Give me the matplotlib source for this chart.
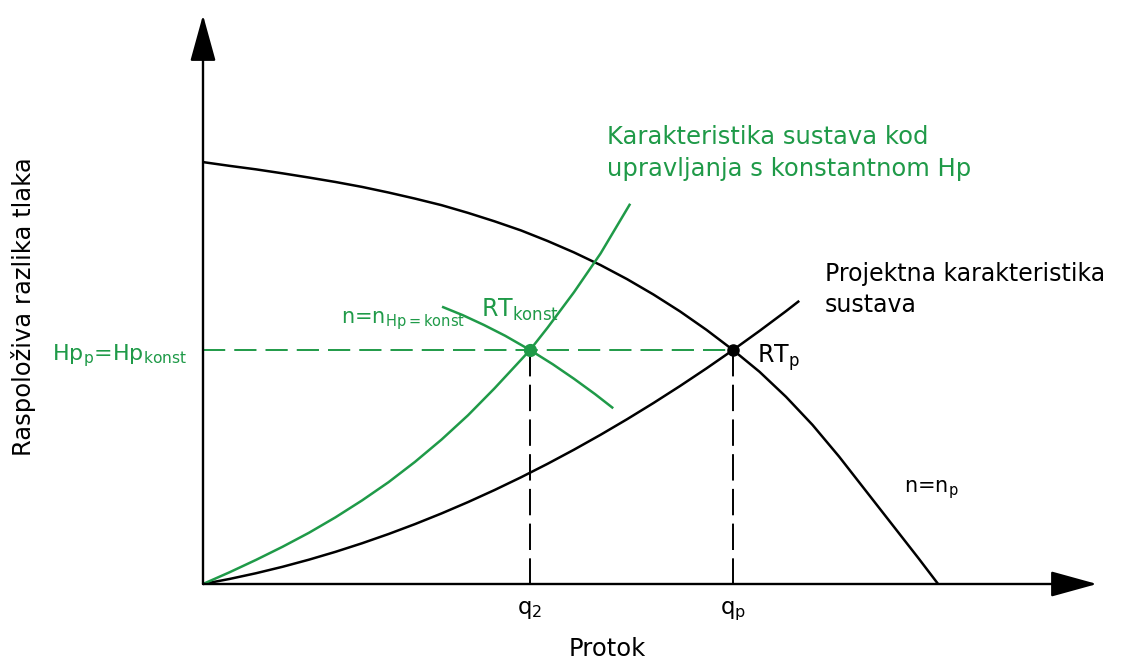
import matplotlib
matplotlib.use("Agg")
import matplotlib.pyplot as plt

plt.rcParams['font.family'] = ['DejaVu Sans']
plt.rcParams['mathtext.default'] = 'regular'
plt.rcParams['lines.scale_dashes'] = False

# ---- data (normalised: q / q_p, H / Hp_p) ----
pump_q = [0.0, 0.05, 0.1, 0.15, 0.2, 0.25, 0.3, 0.35, 0.4, 0.45, 0.5, 0.55, 0.6, 0.65,
          0.7, 0.75, 0.8, 0.85, 0.9, 0.95, 1.0, 1.05, 1.1, 1.15, 1.2, 1.25, 1.3, 1.35, 1.387]
pump_H = [1.803, 1.787, 1.772, 1.755, 1.737, 1.718, 1.697, 1.673, 1.647, 1.619, 1.586,
          1.550, 1.511, 1.466, 1.417, 1.363, 1.303, 1.237, 1.165, 1.086, 1.0, 0.907,
          0.800, 0.680, 0.545, 0.40, 0.255, 0.11, 0.0]

sys_q = [0.0, 0.05, 0.1, 0.15, 0.2, 0.25, 0.3, 0.35, 0.4, 0.45, 0.5, 0.55, 0.6, 0.65,
         0.7, 0.75, 0.8, 0.85, 0.9, 0.95, 1.0, 1.05, 1.1, 1.125]
sys_H = [0.0, 0.0215, 0.046, 0.0735, 0.104, 0.1375, 0.174, 0.2135, 0.256, 0.3015, 0.35,
         0.4015, 0.456, 0.5135, 0.574, 0.6375, 0.704, 0.7735, 0.846, 0.9215, 1.0, 1.0815,
         1.166, 1.21]

green_sys_q = [0.0, 0.05, 0.1, 0.15, 0.2, 0.25, 0.3, 0.35, 0.4, 0.45, 0.5, 0.55, 0.6,
               0.617, 0.65, 0.7, 0.75, 0.806]
green_sys_H = [0.0, 0.050, 0.103, 0.159, 0.219, 0.285, 0.357, 0.435, 0.522, 0.617, 0.721,
               0.836, 0.958, 1.0, 1.095, 1.247, 1.412, 1.625]

green_pump_q = [0.451, 0.49, 0.53, 0.57, 0.617, 0.66, 0.70, 0.74, 0.774]
green_pump_H = [1.185, 1.149, 1.107, 1.061, 1.0, 0.939, 0.877, 0.811, 0.751]

q2, qp, Hp = 0.617, 1.0, 1.0
x_tick_vals = [q2, qp]
x_tick_labels = ['q$_2$', 'q$_p$']

GREEN = '#1f9a48'
W, H_ = 1135, 660
fig = plt.figure(figsize=(W / 100, H_ / 100), dpi=100)
ax = fig.add_axes([0, 0, 1, 1])
# origin at pixel (203, 584); q_p -> 530 px, Hp -> 234 px
ax.set_xlim(-203 / 530, (W - 203) / 530)
ax.set_ylim(-(H_ - 584) / 234, 584 / 234)
ax.axis('off')


def fx(px):
    return px / W


def fy(py):
    return 1 - py / H_


# axes with arrows
arrow_kw = dict(arrowstyle='-|>,head_length=2.9,head_width=0.8', mutation_scale=10,
                lw=1.7, color='black', shrinkA=0, shrinkB=0)
ax.annotate('', xy=((1097 - 203) / 530, 0), xytext=(0, 0), arrowprops=arrow_kw)
ax.annotate('', xy=(0, (584 - 15) / 234), xytext=(0, 0), arrowprops=arrow_kw)

# curves
ax.plot(pump_q, pump_H, color='black', lw=1.8, solid_capstyle='butt')
ax.plot(sys_q, sys_H, color='black', lw=1.8, solid_capstyle='butt')
ax.plot(green_sys_q, green_sys_H, color=GREEN, lw=1.8, solid_capstyle='butt')
ax.plot(green_pump_q, green_pump_H, color=GREEN, lw=1.8, solid_capstyle='butt')

# dashed guides
ax.plot([0, qp], [Hp, Hp], color=GREEN, lw=1.4, dashes=(16, 6.5))
for xv in x_tick_vals:
    ax.plot([xv, xv], [Hp, 0], color='black', lw=1.4, dashes=(19, 6))

# operating points
ax.plot([q2], [Hp], 'o', color=GREEN, ms=8.5, zorder=5)
ax.plot([qp], [Hp], 'o', color='black', ms=8, zorder=5)

# x tick labels
for xv, lab in zip(x_tick_vals, x_tick_labels):
    ax.text(xv, (584 - 614) / 234, lab, ha='center', va='baseline', fontsize=16.5)

fs = 17.5
fig.text(fx(607), fy(144), 'Karakteristika sustava kod', color=GREEN, fontsize=fs, va='baseline')
fig.text(fx(607), fy(176), 'upravljanja s konstantnom Hp', color=GREEN, fontsize=fs, va='baseline')
fig.text(fx(825), fy(281), 'Projektna karakteristika', color='black', fontsize=17, va='baseline')
fig.text(fx(825), fy(312), 'sustava', color='black', fontsize=17, va='baseline')
fig.text(fx(757), fy(363), 'RT$_p$', color='black', fontsize=17, va='baseline')
fig.text(fx(481), fy(317), 'RT$_{konst}$', color=GREEN, fontsize=17, va='baseline')
fig.text(fx(341), fy(323), 'n=n$_{Hp=konst}$', color=GREEN, fontsize=15, va='baseline')
fig.text(fx(52), fy(360), 'Hp$_p$=Hp$_{konst}$', color=GREEN, fontsize=16, va='baseline')
fig.text(fx(904), fy(492), 'n=n$_p$', color='black', fontsize=15, va='baseline')
fig.text(fx(607), fy(656), 'Protok', color='black', fontsize=fs, ha='center', va='baseline')
fig.text(fx(24), fy(307), 'Raspoloživa razlika tlaka', color='black', fontsize=fs,
         rotation=90, ha='center', va='center')

fig.savefig('out.png', dpi=100)
